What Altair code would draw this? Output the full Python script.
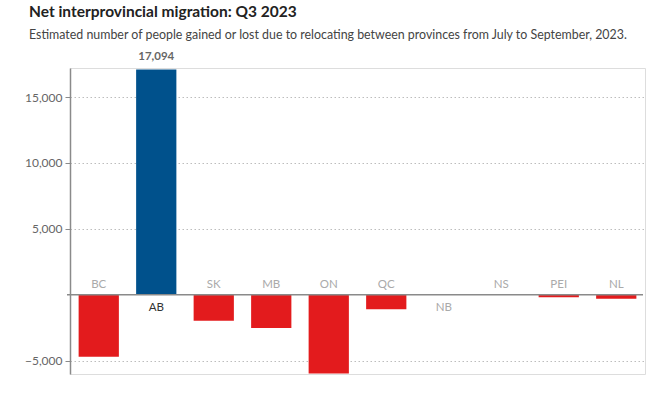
import altair as alt
import pandas as pd

provinces = ["BC", "AB", "SK", "MB", "ON", "QC", "NB", "NS", "PEI", "NL"]
net_migration = [-4697, 17094, -1965, -2519, -5956, -1100, 15, -15, -190, -300]
highlight = ["AB"]
y_ticks = [-5000, 5000, 10000, 15000]

FONT = "Lato"
BLUE = "#00518c"
RED = "#e31b1d"

df = pd.DataFrame({"prov": provinces, "value": net_migration})
df["sign"] = ["pos" if v > 0 else "neg" for v in net_migration]
df["hl"] = [p in highlight for p in provinces]
df["label"] = [f"{v:,}" for v in net_migration]

W, H = 575, 306

x_enc = alt.X("prov:N", sort=provinces,
              scale=alt.Scale(paddingInner=0.3, paddingOuter=0.15),
              axis=None)
y_scale = alt.Scale(domain=[-6000, 17200], nice=False, zero=False)

base = alt.Chart(df)

bars = base.mark_bar().encode(
    x=x_enc,
    y=alt.Y("value:Q", scale=y_scale,
            axis=alt.Axis(values=y_ticks, format=",.0f", title=None,
                          grid=True, gridColor="#bdbdbd", gridDash=[1.5, 2.5],
                          gridWidth=1, domainColor="#8a8a8a", domainWidth=1.5,
                          tickColor="#8a8a8a", tickSize=5, tickWidth=1,
                          labelColor="#666666", labelFontSize=12,
                          labelFont=FONT, labelPadding=3)),
    color=alt.Color("sign:N", scale=alt.Scale(domain=["pos", "neg"], range=[BLUE, RED]),
                    legend=None),
)

zero_rule = alt.Chart(pd.DataFrame({"z": [0]})).mark_rule(
    color="#8a8a8a", strokeWidth=1.5
).encode(y=alt.Y("z:Q", scale=y_scale), x=alt.value(-3), x2=alt.value(W - 2))

neg_labels = base.transform_filter("datum.value <= 0").transform_calculate(zero="0").mark_text(
    baseline="bottom", dy=-5, font=FONT, fontSize=11.5
).encode(
    x=x_enc, y=alt.Y("zero:Q", scale=y_scale), text="prov:N",
    color=alt.condition("datum.hl", alt.value("#333333"), alt.value("#aaaaaa")),
)

pos_labels = base.transform_filter("datum.value > 0").transform_calculate(zero="0").mark_text(
    baseline="top", dy=7, font=FONT, fontSize=11.5
).encode(
    x=x_enc, y=alt.Y("zero:Q", scale=y_scale), text="prov:N",
    color=alt.condition("datum.hl", alt.value("#333333"), alt.value("#aaaaaa")),
)

value_label = base.transform_filter("datum.hl").mark_text(
    baseline="bottom", dy=-7, font=FONT, fontSize=11.5, fontWeight="bold",
    color="#666666"
).encode(x=x_enc, y=alt.Y("value:Q", scale=y_scale), text="label:N")

chart = alt.layer(bars, zero_rule, neg_labels, pos_labels, value_label).properties(
    width=W, height=H,
    title=alt.TitleParams(
        "Net interprovincial migration: Q3 2023",
        subtitle="Estimated number of people gained or lost due to relocating between provinces from July to September, 2023.",
        anchor="start", frame="group", dx=-41, offset=10,
        font=FONT, fontSize=15.5, fontWeight="bold", color="#222222",
        subtitleFont=FONT, subtitleFontSize=12.4, subtitleColor="#444444",
        subtitlePadding=8,
    ),
    autosize=alt.AutoSizeParams(type="none"),
    padding={"left": 70, "top": 68, "right": 27, "bottom": 26},
).configure_view(strokeWidth=0, stroke="transparent").configure(background="white")

chart.save("out.html", embed_options={"renderer": "svg", "actions": False})
